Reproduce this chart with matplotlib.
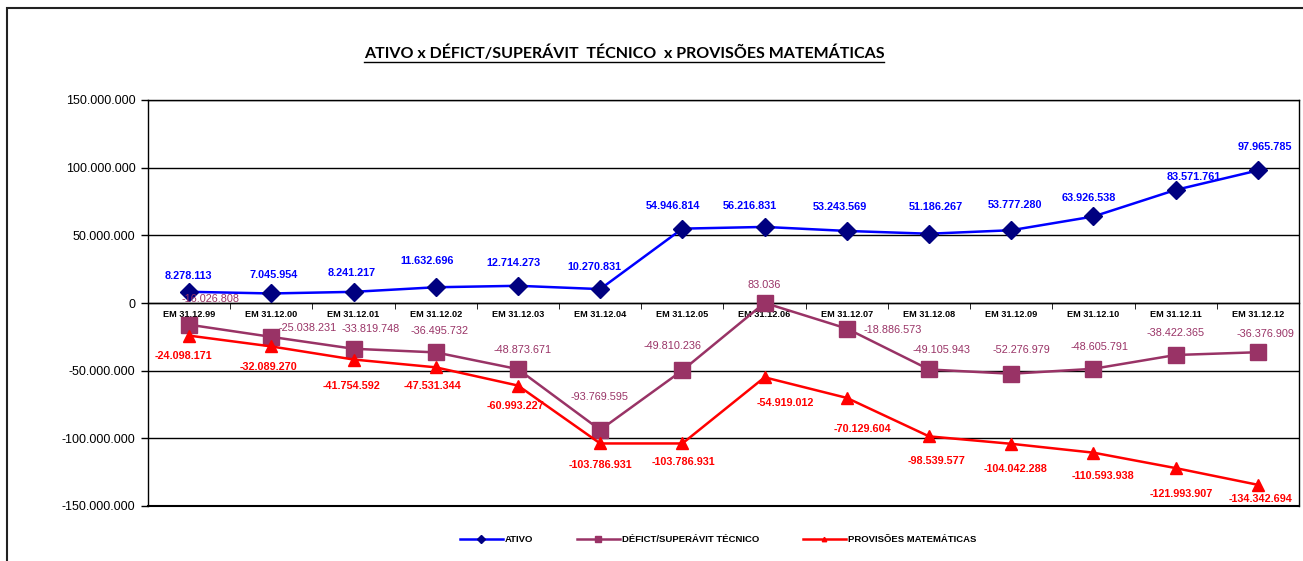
import matplotlib
matplotlib.use("Agg")
import matplotlib.pyplot as plt
from matplotlib.ticker import FuncFormatter, FixedLocator
from matplotlib.lines import Line2D
from matplotlib.patches import Rectangle
import numpy as np

plt.rcParams['font.family'] = ['Liberation Sans', 'DejaVu Sans']

categories = ['EM 31.12.99', 'EM 31.12.00', 'EM 31.12.01', 'EM 31.12.02', 'EM 31.12.03',
              'EM 31.12.04', 'EM 31.12.05', 'EM 31.12.06', 'EM 31.12.07', 'EM 31.12.08',
              'EM 31.12.09', 'EM 31.12.10', 'EM 31.12.11', 'EM 31.12.12']
ativo = [8278113, 7045954, 8241217, 11632696, 12714273, 10270831, 54946814,
         56216831, 53243569, 51186267, 53777280, 63926538, 83571761, 97965785]
deficit = [-16026808, -25038231, -33819748, -36495732, -48873671, -93769595, -49810236,
           83036, -18886573, -49105943, -52276979, -48605791, -38422365, -36376909]
provisoes = [-24098171, -32089270, -41754592, -47531344, -60993227, -103786931, -103786931,
             -54919012, -70129604, -98539577, -104042288, -110593938, -121993907, -134342694]

# label offsets in pixels (dx, dy)
off_ativo = [(-1, 16), (2, 18), (-2, 19), (-9, 26), (-5, 23), (-6, 22), (-9, 23),
             (-15, 21), (-7, 24), (7, 27), (4, 25), (-5, 18), (18, 13), (7, 23)]
off_def = [(21, 26), (36, 9), (17, 20), (4, 21), (5, 19), (-1, 33), (-10, 24),
           (0, 18), (46, -1), (12, 19), (10, 24), (6, 22), (0, 22), (8, 18)]
off_prov = [(-6, -20), (-3, -21), (-2, -26), (-3, -19), (-2, -20), (0, -22), (1, -19),
            (21, -26), (16, -31), (8, -25), (4, -25), (10, -23), (6, -26), (3, -14)]


def br(v):
    return f"{v:,.0f}".replace(',', '.')


fig = plt.figure(figsize=(13.03, 5.61), dpi=100)
ax = fig.add_axes([148 / 1303, 55 / 561, 1151 / 1303, 406 / 561])

x = np.arange(len(categories))
l1, = ax.plot(x, ativo, color='#0000FF', lw=1.8, marker='D', ms=9,
              mfc='#000080', mec='#000080', zorder=4)
l2, = ax.plot(x, deficit, color='#993366', lw=1.8, marker='s', ms=11,
              mfc='#993366', mec='#993366', zorder=3)
l3, = ax.plot(x, provisoes, color='#FF0000', lw=1.8, marker='^', ms=8,
              mfc='#FF0000', mec='#FF0000', zorder=3)

for i in range(len(x)):
    ax.annotate(br(ativo[i]), (x[i], ativo[i]), xytext=off_ativo[i], textcoords='offset pixels',
                ha='center', va='center', fontsize=7.8, fontweight='bold', color='#0000FF', zorder=6)
    ax.annotate(br(deficit[i]), (x[i], deficit[i]), xytext=off_def[i], textcoords='offset pixels',
                ha='center', va='center', fontsize=7.8, color='#993366', zorder=6)
    ax.annotate(br(provisoes[i]), (x[i], provisoes[i]), xytext=off_prov[i], textcoords='offset pixels',
                ha='center', va='center', fontsize=7.8, fontweight='bold', color='#FF0000', zorder=6)

ax.set_xlim(-0.5, len(x) - 0.5)
ax.set_ylim(-150000000, 150000000)
ax.set_yticks(np.arange(-150000000, 150000001, 50000000))
ax.yaxis.set_major_formatter(FuncFormatter(lambda v, p: br(v)))
ax.tick_params(axis='y', labelsize=9, length=5, width=1, color='black', pad=4)
ax.yaxis.grid(True, color='black', lw=1)
ax.set_axisbelow(True)

ax.spines['bottom'].set_position(('data', 0))
ax.spines['bottom'].set_linewidth(1)
for s in ['left', 'right', 'top']:
    ax.spines[s].set_linewidth(1)
ax.axhline(-150000000, color='black', lw=1.5, clip_on=False)
ax.set_xticks(x)
ax.set_xticklabels(categories)
ax.xaxis.set_minor_locator(FixedLocator(np.arange(-0.5, len(x), 1)))
ax.tick_params(axis='x', which='major', length=0, labelsize=6.6, pad=5)
ax.tick_params(axis='x', which='minor', length=4, direction='out')
for t in ax.get_xticklabels():
    t.set_fontweight('bold')

fig.legend([l1, l2, l3], ['ATIVO', 'DÉFICT/SUPERÁVIT TÉCNICO', 'PROVISÕES MATEMÁTICAS'],
           loc='center', bbox_to_anchor=(718 / 1303, 21 / 561), ncol=3, frameon=False,
           prop={'size': 6.8, 'weight': 'bold'}, markerscale=0.4, handlelength=4.6,
           handletextpad=0.2, columnspacing=4.6)

title = fig.text(624 / 1303, 1 - 53 / 561, 'ATIVO x DÉFICT/SUPERÁVIT  TÉCNICO  x PROVISÕES MATEMÁTICAS',
                 ha='center', va='center', fontsize=11.5, fontweight='bold', family='Lato')
fig.canvas.draw()
bb = title.get_window_extent()
yl = (bb.y0 - 1) / fig.bbox.height
fig.add_artist(Line2D([bb.x0 / fig.bbox.width, bb.x1 / fig.bbox.width], [yl, yl],
                      transform=fig.transFigure, color='black', lw=1))

fig.add_artist(Rectangle((7 / 1303, -0.5), 2, 0.5 + (561 - 8) / 561, transform=fig.transFigure,
                         fill=False, edgecolor='#222222', lw=1.5))

fig.savefig('out.png', dpi=100)
